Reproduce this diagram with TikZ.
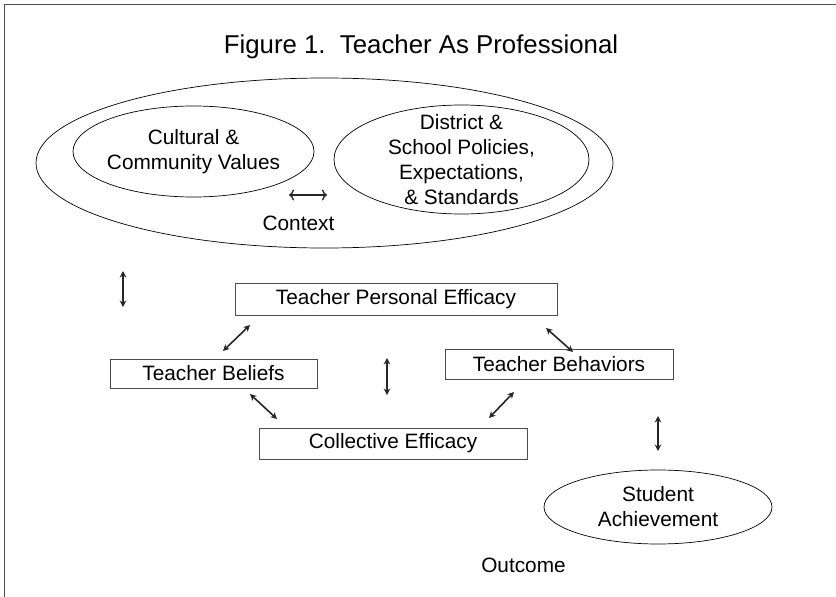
\documentclass[tikz,border=0pt]{standalone}
\usepackage{fontspec}
\setmainfont{Liberation Sans}
\usepackage{tikz}
\usetikzlibrary{arrows.meta}
\usetikzlibrary{shapes.geometric}
\newcommand{\bodyfont}{\fontsize{20.8pt}{25pt}\selectfont}
\tikzset{
  box/.style={draw=black!70,line width=0.9pt,inner sep=0pt,font=\bodyfont},
  oval/.style={ellipse,draw,line width=0.7pt,inner sep=-15pt,align=center,font=\bodyfont},
  link/.style={{Stealth[length=6.5pt,width=6.5pt]}-{Stealth[length=6.5pt,width=6.5pt]},line width=1.6pt,black!85},
  thinlink/.style={{To[length=5pt,width=11pt]}-{To[length=5pt,width=11pt]},line width=1.4pt,black!85}
}

\begin{document}
\begin{tikzpicture}[x=1pt,y=-1pt]
  \useasboundingbox (0,0) rectangle (836,597);
  \draw[black!70,line width=1pt] (4,597) -- (4,4) -- (836,4);

  \node[anchor=base,font=\fontsize{25.8pt}{30pt}\selectfont] (title) at (421,53) {Figure 1.\ \ Teacher As Professional};

  \node[oval,minimum width=577pt,minimum height=170pt] (context) at (324.5,163) {};
  \node[oval,minimum width=241pt,minimum height=91pt] (culture) at (193.5,151.5) {Cultural \&\\Community Values};
  \node[oval,minimum width=255pt,minimum height=109pt] (district) at (461.5,159.5) {District \&\\School Policies,\\Expectations,\\\& Standards};
  \node[anchor=base,font=\bodyfont] (contextlabel) at (298.5,230) {Context};

  \node[box,minimum width=322pt,minimum height=32pt] (personal) at (396,299) {Teacher Personal Efficacy};
  \node[box,minimum width=207pt,minimum height=29pt] (beliefs) at (213.5,373.5) {Teacher Beliefs};
  \node[box,minimum width=228pt,minimum height=30pt] (behaviors) at (559,364) {Teacher Behaviors};
  \node[box,minimum width=268pt,minimum height=31pt] (collective) at (393,443.5) {Collective Efficacy};

  \node[oval,minimum width=228pt,minimum height=74pt] (student) at (658,507) {Student\\Achievement};
  \node[anchor=base,font=\bodyfont] (outcome) at (523.5,572) {Outcome};

  \coordinate (c1) at (289,195);  \coordinate (c2) at (327,195);
  \coordinate (v1) at (123,271);  \coordinate (v2) at (123,307);
  \coordinate (p1) at (223,351);  \coordinate (p2) at (250,325);
  \coordinate (b1) at (250,394);  \coordinate (b2) at (277,419);
  \coordinate (m1) at (387,358);  \coordinate (m2) at (387,395);
  \coordinate (h1) at (546,328);  \coordinate (h2) at (573,352);
  \coordinate (e1) at (489,418);  \coordinate (e2) at (514,392);
  \coordinate (s1) at (658,416);  \coordinate (s2) at (658,451);

  \path[thinlink] (c1) edge (c2);
  \path[link]
    (v1) edge (v2)
    (p1) edge (p2)
    (b1) edge (b2)
    (m1) edge (m2)
    (h1) edge (h2)
    (e1) edge (e2)
    (s1) edge (s2);
\end{tikzpicture}
\end{document}
